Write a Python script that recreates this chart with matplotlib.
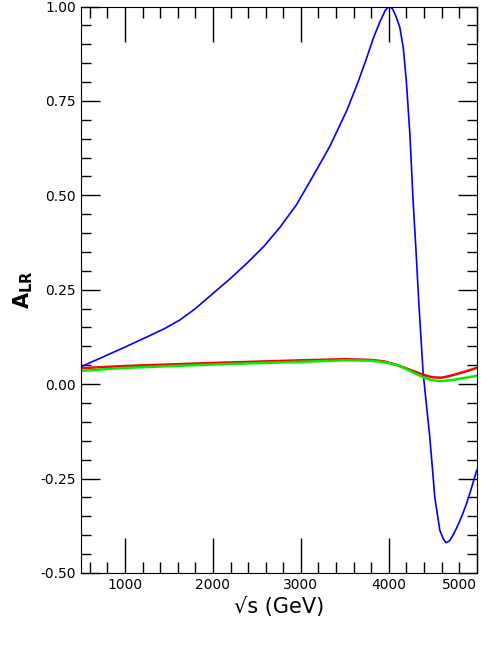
import matplotlib
matplotlib.use("Agg")
import matplotlib.pyplot as plt
from matplotlib.ticker import MultipleLocator, FixedLocator

blue_x = [490, 750, 1000, 1250, 1450, 1625, 1800, 2000, 2200, 2386, 2580, 2761, 2950, 3136, 3330, 3523, 3650, 3750, 3830, 3900, 3960, 4000, 4040, 4080, 4125, 4165, 4200, 4240, 4275, 4310, 4340, 4390, 4430, 4466, 4523, 4580, 4620, 4650, 4690, 4730, 4773, 4830, 4886, 4940, 5000]
blue = [0.045, 0.072, 0.098, 0.125, 0.147, 0.17, 0.20, 0.24, 0.28, 0.32, 0.365, 0.415, 0.475, 0.55, 0.63, 0.725, 0.80, 0.865, 0.92, 0.96, 0.99, 1.00, 0.995, 0.975, 0.945, 0.89, 0.80, 0.66, 0.49, 0.35, 0.22, 0.03, -0.06, -0.14, -0.30, -0.387, -0.41, -0.42, -0.415, -0.40, -0.38, -0.35, -0.315, -0.275, -0.228]
red_x = [490, 1000, 2000, 3000, 3500, 3800, 3950, 4100, 4250, 4400, 4500, 4600, 4700, 4850, 5000]
red = [0.042, 0.048, 0.056, 0.063, 0.066, 0.064, 0.060, 0.050, 0.037, 0.024, 0.018, 0.017, 0.022, 0.032, 0.043]
green_x = [490, 1000, 2000, 3000, 3500, 3800, 3950, 4100, 4250, 4400, 4500, 4600, 4700, 4850, 5000]
green = [0.035, 0.043, 0.052, 0.059, 0.063, 0.062, 0.058, 0.050, 0.034, 0.017, 0.010, 0.008, 0.010, 0.016, 0.022]
xticks = [1000, 2000, 3000, 4000, 5000]
yticks = [-0.5, -0.25, 0.0, 0.25, 0.5, 0.75, 1.0]

fig = plt.figure(figsize=(4.91, 6.54), dpi=100)
ax = fig.add_axes([0.165, 0.124, 0.806, 0.866])
ax.plot(blue_x, blue, color="#0000ff", lw=1.2)
ax.plot(red_x, red, color="#ff0000", lw=1.8)
ax.plot(green_x, green, color="#00ee00", lw=1.8)
ax.set_xticks(xticks)
ax.set_xticklabels([str(v) for v in xticks])
ax.set_yticks(yticks)
ax.set_yticklabels([f"{v:.2f}" for v in yticks])
ax.xaxis.set_minor_locator(MultipleLocator(200))
ax.yaxis.set_minor_locator(MultipleLocator(0.05))
ax.set_xlim(500, 5000)
ax.set_ylim(-0.5, 1.0)
ax.tick_params(which="both", direction="in", top=True, right=True, labelsize=10, width=1)
ax.tick_params(axis="x", which="major", length=25)
ax.tick_params(axis="x", which="minor", length=8)
ax.tick_params(axis="y", which="major", length=14)
ax.tick_params(axis="y", which="minor", length=7)
ax.get_xticklabels()[-1].set_horizontalalignment("right")
ax.set_xlabel("√s (GeV)", fontsize=15)
ax.set_ylabel(r"$\mathbf{A_{LR}}$", fontsize=15)
fig.savefig("out.png", dpi=100)
